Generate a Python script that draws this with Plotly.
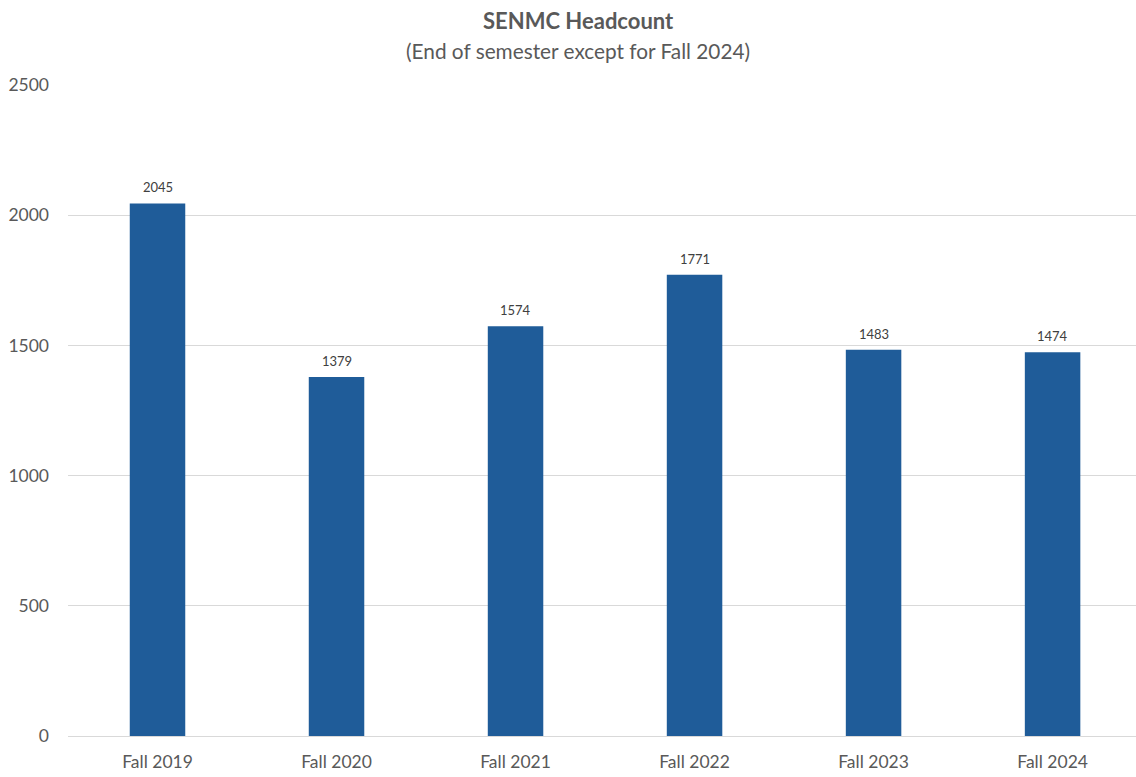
import plotly.graph_objects as go

categories = ["Fall 2019", "Fall 2020", "Fall 2021", "Fall 2022", "Fall 2023", "Fall 2024"]
headcount = [2045, 1379, 1574, 1771, 1483, 1474]
y_ticks = [0, 500, 1000, 1500, 2000, 2500]

BAR = "#1F5C99"
TEXT = "#595959"
GRID = "#D9D9D9"
FONT = "Lato, 'Open Sans', sans-serif"

fig = go.Figure(go.Bar(
    x=categories, y=headcount,
    marker=dict(color=BAR, line=dict(width=0)),
    width=0.31,
    cliponaxis=False,
))

annotations = [
    dict(x=c, y=v, xref="x", yref="y", text=str(v), showarrow=False,
         yanchor="bottom", yshift=6, font=dict(size=13, color="#404040", family=FONT))
    for c, v in zip(categories, headcount)
]
title_x = (578 - 68) / 1068
annotations += [
    dict(text="<b>SENMC Headcount</b>", x=title_x, xref="paper", xanchor="center",
         y=(736 - 20) / 651, yref="paper", yanchor="middle", showarrow=False,
         font=dict(size=22, color=TEXT, family=FONT)),
    dict(text="(End of semester except for Fall 2024)", x=title_x, xref="paper", xanchor="center",
         y=(736 - 50) / 651, yref="paper", yanchor="middle", showarrow=False,
         font=dict(size=20.8, color=TEXT, family=FONT)),
]

fig.update_layout(
    width=1136, height=777,
    margin=dict(l=68, r=0, t=85, b=41),
    plot_bgcolor="white", paper_bgcolor="white",
    font=dict(family=FONT, color=TEXT, size=17),
    showlegend=False,
    xaxis=dict(
        range=[-0.5, 5.466],
        showgrid=False, showline=True, linecolor=GRID, linewidth=1,
        ticks="", tickfont=dict(size=17.5, color=TEXT),
        ticklabelstandoff=10,
    ),
    yaxis=dict(
        range=[0, 2500], tickvals=y_ticks,
        showgrid=True, gridcolor=GRID, gridwidth=1,
        zeroline=False, showline=False, ticks="",
        tickfont=dict(size=17.5, color=TEXT),
        ticklabelstandoff=18,
    ),
    annotations=annotations,
)

fig.write_html("out.html")
